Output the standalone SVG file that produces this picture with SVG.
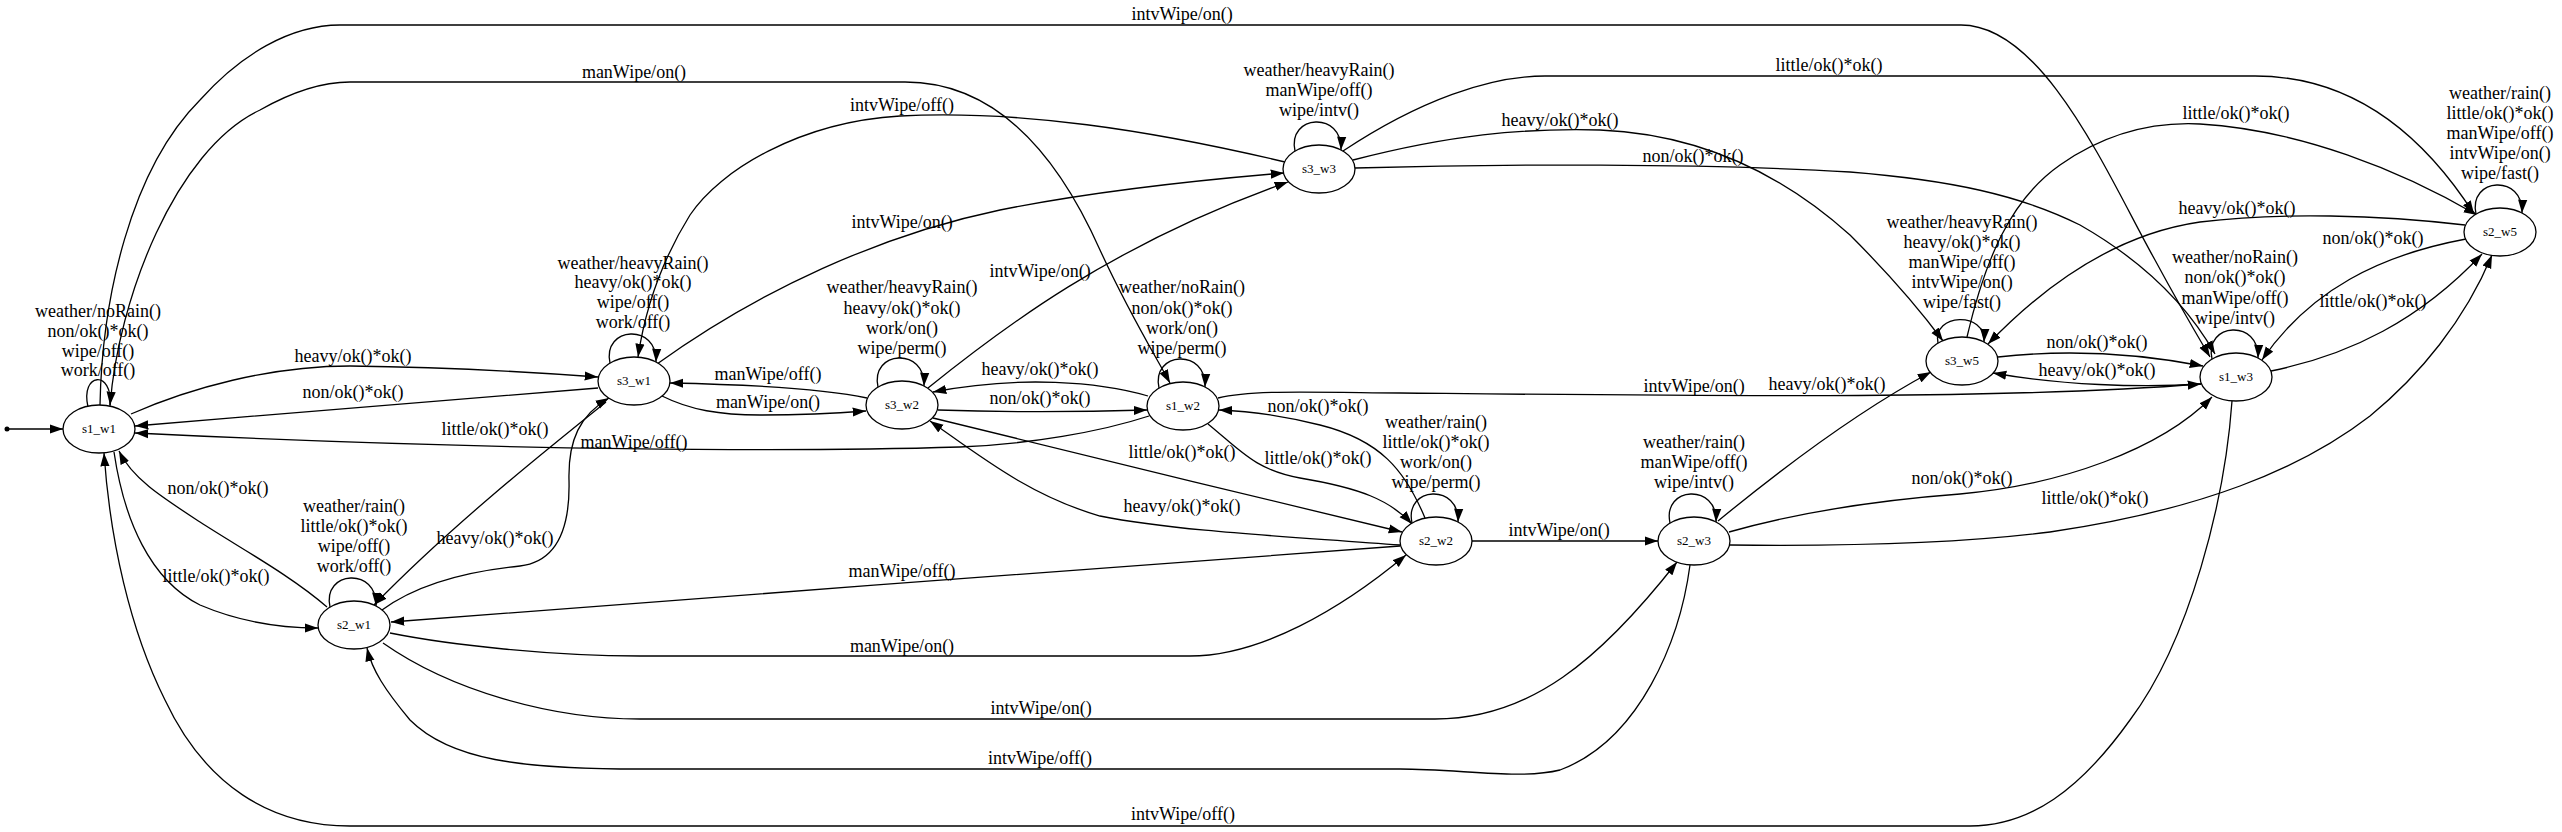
<svg xmlns="http://www.w3.org/2000/svg" width="2562" height="832" viewBox="0 0 2562 832">
<style>
.e{fill:none;stroke:#000;stroke-width:1.3;marker-end:url(#arr)}
.nd{fill:#fff;stroke:#000;stroke-width:1.3}
.nl{font-family:"Liberation Serif","Times New Roman",serif;font-size:13px;text-anchor:middle;fill:#000}
.el{font-family:"Liberation Serif","Times New Roman",serif;font-size:18px;text-anchor:middle;fill:#000}
</style>
<defs>
<marker id="arr" viewBox="0 0 14 10" refX="13.3" refY="5" markerWidth="14" markerHeight="10" markerUnits="userSpaceOnUse" orient="auto">
<path d="M0,0.4 L13.3,5 L0,9.6 z" fill="#000"/>
</marker>
</defs>
<rect width="2562" height="832" fill="#fff"/>
<g id="connectors">
<g id="init"><circle cx="7" cy="429" r="2.5" fill="#000"/><path class="e" d="M9,429 L63,429"/></g>
<g><path class="e" d="M88,407 C80,372 113,370 110,405"/><text class="el"><tspan x="98" y="317">weather/noRain()</tspan><tspan x="98" y="337">non/ok()*ok()</tspan><tspan x="98" y="357">wipe/off()</tspan><tspan x="98" y="376">work/off()</tspan></text></g>
<g><path class="e" d="M610,363 C602,326 658,323 656,362"/><text class="el"><tspan x="633" y="269">weather/heavyRain()</tspan><tspan x="633" y="288">heavy/ok()*ok()</tspan><tspan x="633" y="308">wipe/off()</tspan><tspan x="633" y="328">work/off()</tspan></text></g>
<g><path class="e" d="M878,387 C870,350 926,347 924,386"/><text class="el"><tspan x="902" y="293">weather/heavyRain()</tspan><tspan x="902" y="314">heavy/ok()*ok()</tspan><tspan x="902" y="334">work/on()</tspan><tspan x="902" y="354">wipe/perm()</tspan></text></g>
<g><path class="e" d="M1159,388 C1151,351 1207,348 1205,387"/><text class="el"><tspan x="1182" y="293">weather/noRain()</tspan><tspan x="1182" y="314">non/ok()*ok()</tspan><tspan x="1182" y="334">work/on()</tspan><tspan x="1182" y="354">wipe/perm()</tspan></text></g>
<g><path class="e" d="M1295,151 C1287,114 1343,111 1341,150"/><text class="el"><tspan x="1319" y="76">weather/heavyRain()</tspan><tspan x="1319" y="96">manWipe/off()</tspan><tspan x="1319" y="116">wipe/intv()</tspan></text></g>
<g><path class="e" d="M330,607 C322,570 378,567 376,606"/><text class="el"><tspan x="354" y="512">weather/rain()</tspan><tspan x="354" y="532">little/ok()*ok()</tspan><tspan x="354" y="552">wipe/off()</tspan><tspan x="354" y="572">work/off()</tspan></text></g>
<g><path class="e" d="M1412,523 C1404,486 1460,483 1458,522"/><text class="el"><tspan x="1436" y="428">weather/rain()</tspan><tspan x="1436" y="448">little/ok()*ok()</tspan><tspan x="1436" y="468">work/on()</tspan><tspan x="1436" y="488">wipe/perm()</tspan></text></g>
<g><path class="e" d="M1670,523 C1662,486 1718,483 1716,522"/><text class="el"><tspan x="1694" y="448">weather/rain()</tspan><tspan x="1694" y="468">manWipe/off()</tspan><tspan x="1694" y="488">wipe/intv()</tspan></text></g>
<g><path class="e" d="M1938,343 C1932,313 1986,311 1984,342"/><text class="el"><tspan x="1962" y="228">weather/heavyRain()</tspan><tspan x="1962" y="248">heavy/ok()*ok()</tspan><tspan x="1962" y="268">manWipe/off()</tspan><tspan x="1962" y="288">intvWipe/on()</tspan><tspan x="1962" y="308">wipe/fast()</tspan></text></g>
<g><path class="e" d="M2212,359 C2204,322 2260,319 2258,358"/><text class="el"><tspan x="2235" y="263">weather/noRain()</tspan><tspan x="2235" y="283">non/ok()*ok()</tspan><tspan x="2235" y="304">manWipe/off()</tspan><tspan x="2235" y="324">wipe/intv()</tspan></text></g>
<g><path class="e" d="M2476,214 C2468,177 2524,174 2522,213"/><text class="el"><tspan x="2500" y="99">weather/rain()</tspan><tspan x="2500" y="119">little/ok()*ok()</tspan><tspan x="2500" y="139">manWipe/off()</tspan><tspan x="2500" y="159">intvWipe/on()</tspan><tspan x="2500" y="179">wipe/fast()</tspan></text></g>
<g><path class="e" d="M131,414 C190,388 270,366 350,366 C440,367 530,372 598,377"/><text class="el" x="353" y="362">heavy/ok()*ok()</text></g>
<g><path class="e" d="M598,388 C480,398 300,412 135,426"/><text class="el" x="353" y="398">non/ok()*ok()</text></g>
<g><path class="e" d="M1149,416 C1100,432 1030,444 960,447 C800,452 500,451 135,433"/><text class="el" x="634" y="448">manWipe/off()</text></g>
<g><path class="e" d="M114,452 C124,520 150,580 200,605 C240,622 280,628 318,628"/><text class="el" x="216" y="582">little/ok()*ok()</text></g>
<g><path class="e" d="M327,607 C290,575 240,548 200,522 C160,496 132,478 119,451"/><text class="el" x="218" y="494">non/ok()*ok()</text></g>
<g><path class="e" d="M110,406 C118,300 175,150 260,110 C290,93 320,82 350,82 L905,82 C1000,82 1060,160 1100,250 C1130,315 1155,355 1170,383"/><text class="el" x="634" y="78">manWipe/on()</text></g>
<g><path class="e" d="M100,405 C102,300 130,170 200,100 C240,55 290,25 340,25 L1961,25 C2045,25 2110,180 2155,260 C2182,310 2200,340 2210,357"/><text class="el" x="1182" y="20">intvWipe/on()</text></g>
<g><path class="e" d="M2232,401 C2225,500 2190,640 2130,720 C2080,790 2030,826 1970,826 L350,826 C270,826 205,785 165,700 C130,630 110,540 104,453"/><text class="el" x="1183" y="820">intvWipe/off()</text></g>
<g><path class="e" d="M606,402 C540,455 450,527 374,605"/><text class="el" x="495" y="435">little/ok()*ok()</text></g>
<g><path class="e" d="M382,610 C420,582 470,571 520,566 C562,561 570,520 569,480 C568,440 580,415 609,398"/><text class="el" x="495" y="544">heavy/ok()*ok()</text></g>
<g><path class="e" d="M662,396 C690,410 720,415 760,415 C800,415 840,413 866,411"/><text class="el" x="768" y="408">manWipe/on()</text></g>
<g><path class="e" d="M867,398 C830,390 770,385 670,383"/><text class="el" x="768" y="380">manWipe/off()</text></g>
<g><path class="e" d="M657,364 C760,290 880,235 1000,210 C1100,190 1200,180 1284,173"/><text class="el" x="902" y="228">intvWipe/on()</text></g>
<g><path class="e" d="M1285,162 C1150,130 1020,110 900,116 C800,122 720,170 690,215 C662,260 645,310 638,357"/><text class="el" x="902" y="111">intvWipe/off()</text></g>
<g><path class="e" d="M928,388 C1000,330 1110,245 1288,182"/><text class="el" x="1040" y="277">intvWipe/on()</text></g>
<g><path class="e" d="M938,410 C1000,412 1080,412 1147,410"/><text class="el" x="1040" y="404">non/ok()*ok()</text></g>
<g><path class="e" d="M1148,396 C1100,382 1020,375 933,392"/><text class="el" x="1040" y="375">heavy/ok()*ok()</text></g>
<g><path class="e" d="M933,418 C1080,455 1250,495 1402,532"/><text class="el" x="1182" y="458">little/ok()*ok()</text></g>
<g><path class="e" d="M1400,545 C1300,537 1180,532 1100,516 C1030,496 980,456 930,421"/><text class="el" x="1182" y="512">heavy/ok()*ok()</text></g>
<g><path class="e" d="M1208,424 C1240,450 1255,470 1300,478 C1360,488 1390,500 1412,524"/><text class="el" x="1318" y="464">little/ok()*ok()</text></g>
<g><path class="e" d="M1425,518 C1405,470 1380,440 1320,425 C1280,415 1250,411 1219,410"/><text class="el" x="1318" y="412">non/ok()*ok()</text></g>
<g><path class="e" d="M1218,398 C1250,390 1300,392 1400,393 C1700,396 2000,400 2201,384"/><text class="el" x="1694" y="392">intvWipe/on()</text></g>
<g><path class="e" d="M1472,541 L1658,541"/><text class="el" x="1559" y="536">intvWipe/on()</text></g>
<g><path class="e" d="M390,633 C450,645 550,656 640,656 L1190,656 C1260,656 1340,610 1406,555"/><text class="el" x="902" y="652">manWipe/on()</text></g>
<g><path class="e" d="M1400,546 C1100,566 700,600 391,622"/><text class="el" x="902" y="577">manWipe/off()</text></g>
<g><path class="e" d="M383,643 C450,690 550,719 640,719 L1435,719 C1530,719 1600,660 1677,562"/><text class="el" x="1041" y="714">intvWipe/on()</text></g>
<g><path class="e" d="M1690,565 C1680,640 1640,740 1560,770 C1520,780 1460,769 1400,769 L640,769 C520,769 450,760 410,720 C385,690 372,670 367,648"/><text class="el" x="1040" y="764">intvWipe/off()</text></g>
<g><path class="e" d="M1718,521 C1780,470 1860,410 1931,372"/><text class="el" x="1827" y="390">heavy/ok()*ok()</text></g>
<g><path class="e" d="M1729,532 C1800,512 1880,500 1960,494 C2060,485 2160,450 2212,397"/><text class="el" x="1962" y="484">non/ok()*ok()</text></g>
<g><path class="e" d="M1730,545 C1820,546 1950,545 2050,532 C2200,510 2300,470 2370,416 C2420,375 2465,320 2492,255"/><text class="el" x="2095" y="504">little/ok()*ok()</text></g>
<g><path class="e" d="M1343,151 C1420,100 1490,76 1545,76 L2255,76 C2350,76 2420,130 2474,214"/><text class="el" x="1829" y="71">little/ok()*ok()</text></g>
<g><path class="e" d="M1353,160 C1450,135 1520,128 1600,130 C1720,135 1800,190 1850,235 C1890,275 1920,310 1943,341"/><text class="el" x="1560" y="126">heavy/ok()*ok()</text></g>
<g><path class="e" d="M1355,168 C1500,164 1700,163 1850,172 C1950,180 2020,195 2080,225 C2150,265 2190,310 2215,354"/><text class="el" x="1693" y="162">non/ok()*ok()</text></g>
<g><path class="e" d="M1998,357 C2060,350 2130,352 2203,366"/><text class="el" x="2097" y="348">non/ok()*ok()</text></g>
<g><path class="e" d="M2201,384 C2140,388 2060,385 1993,373"/><text class="el" x="2097" y="376">heavy/ok()*ok()</text></g>
<g><path class="e" d="M1967,337 C1985,260 2010,200 2060,165 C2110,130 2160,122 2200,124 C2300,130 2400,170 2477,215"/><text class="el" x="2236" y="119">little/ok()*ok()</text></g>
<g><path class="e" d="M2465,225 C2380,215 2280,212 2200,222 C2110,235 2040,290 1988,344"/><text class="el" x="2237" y="214">heavy/ok()*ok()</text></g>
<g><path class="e" d="M2466,239 C2380,255 2310,290 2262,360"/><text class="el" x="2373" y="244">non/ok()*ok()</text></g>
<g><path class="e" d="M2271,371 C2350,355 2420,320 2482,254"/><text class="el" x="2373" y="307">little/ok()*ok()</text></g>
</g>
<g id="s1_w1"><ellipse class="nd" cx="99" cy="429" rx="36" ry="24"/><text class="nl" x="99" y="433">s1_w1</text></g>
<g id="s2_w1"><ellipse class="nd" cx="354" cy="625" rx="36" ry="24"/><text class="nl" x="354" y="629">s2_w1</text></g>
<g id="s3_w1"><ellipse class="nd" cx="634" cy="381" rx="36" ry="24"/><text class="nl" x="634" y="385">s3_w1</text></g>
<g id="s3_w2"><ellipse class="nd" cx="902" cy="405" rx="36" ry="24"/><text class="nl" x="902" y="409">s3_w2</text></g>
<g id="s1_w2"><ellipse class="nd" cx="1183" cy="406" rx="36" ry="24"/><text class="nl" x="1183" y="410">s1_w2</text></g>
<g id="s2_w2"><ellipse class="nd" cx="1436" cy="541" rx="36" ry="24"/><text class="nl" x="1436" y="545">s2_w2</text></g>
<g id="s2_w3"><ellipse class="nd" cx="1694" cy="541" rx="36" ry="24"/><text class="nl" x="1694" y="545">s2_w3</text></g>
<g id="s3_w3"><ellipse class="nd" cx="1319" cy="169" rx="36" ry="24"/><text class="nl" x="1319" y="173">s3_w3</text></g>
<g id="s3_w5"><ellipse class="nd" cx="1962" cy="361" rx="36" ry="24"/><text class="nl" x="1962" y="365">s3_w5</text></g>
<g id="s1_w3"><ellipse class="nd" cx="2236" cy="377" rx="36" ry="24"/><text class="nl" x="2236" y="381">s1_w3</text></g>
<g id="s2_w5"><ellipse class="nd" cx="2500" cy="232" rx="36" ry="24"/><text class="nl" x="2500" y="236">s2_w5</text></g>
</svg>
